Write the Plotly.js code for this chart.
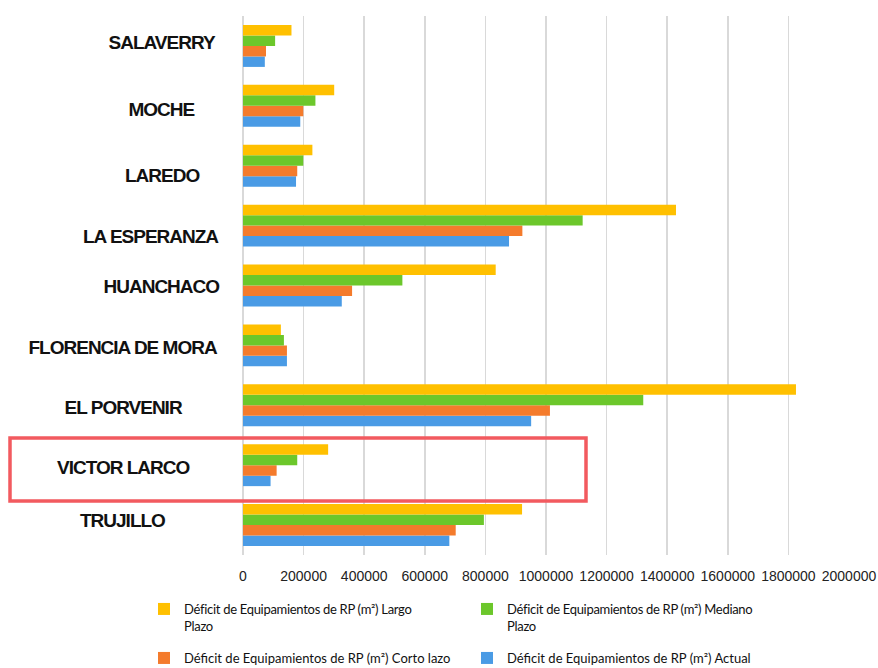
<!DOCTYPE html>
<html>
<head>
<meta charset="utf-8">
<script src="https://cdn.plot.ly/plotly-3.0.1.min.js"></script>
<style>
html,body{margin:0;padding:0;background:#fff;}
#chart{width:878px;height:668px;}
#chart .annotation-text{letter-spacing:-1px;}
#chart .legendtext{letter-spacing:-0.3px;}
</style>
</head>
<body>
<div id="chart"></div>
<script>
// ---- data (bottom to top, as Plotly stacks categories) ----
const categories = ["TRUJILLO","VICTOR LARCO","EL PORVENIR","FLORENCIA DE MORA","HUANCHACO","LA ESPERANZA","LAREDO","MOCHE","SALAVERRY"];
const actual  = [681000, 91000, 951000, 145000, 326000, 878000, 175000, 189000, 72000];
const corto   = [702000, 111000, 1013000, 145000, 360000, 922000, 179000, 199000, 76000];
const mediano = [795000, 179000, 1321000, 135000, 526000, 1121000, 199000, 239000, 106000];
const largo   = [921000, 281000, 1825000, 125000, 834000, 1429000, 229000, 301000, 160000];
const seriesNames = [
  "Déficit de Equipamientos de RP (m²) Actual",
  "Déficit de Equipamientos de RP (m²) Corto lazo",
  "Déficit de Equipamientos de RP (m²) Mediano<br>Plazo",
  "Déficit de Equipamientos de RP (m²) Largo<br>Plazo"
];
const tickVals = [0,200000,400000,600000,800000,1000000,1200000,1400000,1600000,1800000,2000000];

// ---- styling ----
const W = 878, H = 668;
const M = {l: 243, r: 29, t: 16, b: 113, autoexpand: false};
const pw = W - M.l - M.r, ph = H - M.t - M.b;
const colors = ["#4A9BE5", "#F47B2C", "#6CC72B", "#FFC000"];
const legendOf = ["legend2", "legend2", "legend", "legend"];
const labelXpx = [122.5, 122.5, 122.5, 122.5, 161, 150, 161.5, 161.5, 161];
const labelShift = [5, -2, -2, -2, -1, -11, -10, -4, 3];
const labelFont = {family: "Liberation Sans, Arial", size: 19, color: "#111"};
const legendFont = {family: "Lato, Liberation Sans, Arial", size: 13, color: "#111"};
const px2paperX = p => (p - M.l) / pw;
const px2paperY = p => (H - M.b - p) / ph;

const data = [actual, corto, mediano, largo].map((vals, i) => ({
  type: "bar", orientation: "h",
  y: categories, x: vals, name: seriesNames[i],
  legend: legendOf[i],
  marker: {color: colors[i], line: {color: colors[i], width: 0}},
  hoverinfo: "x+name"
}));

const annotations = categories.map((c, i) => ({
  xref: "paper", yref: "y", x: px2paperX(labelXpx[i]), y: c,
  xanchor: "center", yanchor: "middle", yshift: labelShift[i],
  text: "<b>" + c + "</b>", showarrow: false, font: labelFont
}));

const legendBase = {
  orientation: "h", traceorder: "reversed", xanchor: "left", yanchor: "top",
  entrywidth: 278, entrywidthmode: "pixels", valign: "top",
  font: legendFont, bgcolor: "rgba(0,0,0,0)"
};

const layout = {
  width: W, height: H,
  margin: M,
  paper_bgcolor: "#fff", plot_bgcolor: "#fff",
  barmode: "group", bargap: 0.3, bargroupgap: 0,
  xaxis: {
    range: [0, 2000000], tickvals: tickVals, ticktext: tickVals.map(String),
    showgrid: true, gridcolor: "#D9D9D9", gridwidth: 1.5,
    zeroline: true, zerolinecolor: "#D9D9D9", zerolinewidth: 1.5,
    showline: false, ticks: "", ticklabelstandoff: 11,
    tickfont: {family: "Liberation Sans, Arial", size: 14, color: "#222"}
  },
  yaxis: {showticklabels: false, showgrid: false, zeroline: false, showline: false, ticks: ""},
  showlegend: true,
  legend: Object.assign({}, legendBase, {x: px2paperX(144), y: px2paperY(594)}),
  legend2: Object.assign({}, legendBase, {x: px2paperX(144), y: px2paperY(643)}),
  annotations: annotations,
  shapes: [{
    type: "rect", xref: "paper", yref: "paper",
    x0: px2paperX(10), x1: px2paperX(586), y0: px2paperY(501), y1: px2paperY(438),
    line: {color: "#F25A5F", width: 3.5}, fillcolor: "rgba(0,0,0,0)", layer: "above"
  }]
};

Plotly.newPlot("chart", data, layout, {displayModeBar: false, staticPlot: true});
</script>
</body>
</html>
